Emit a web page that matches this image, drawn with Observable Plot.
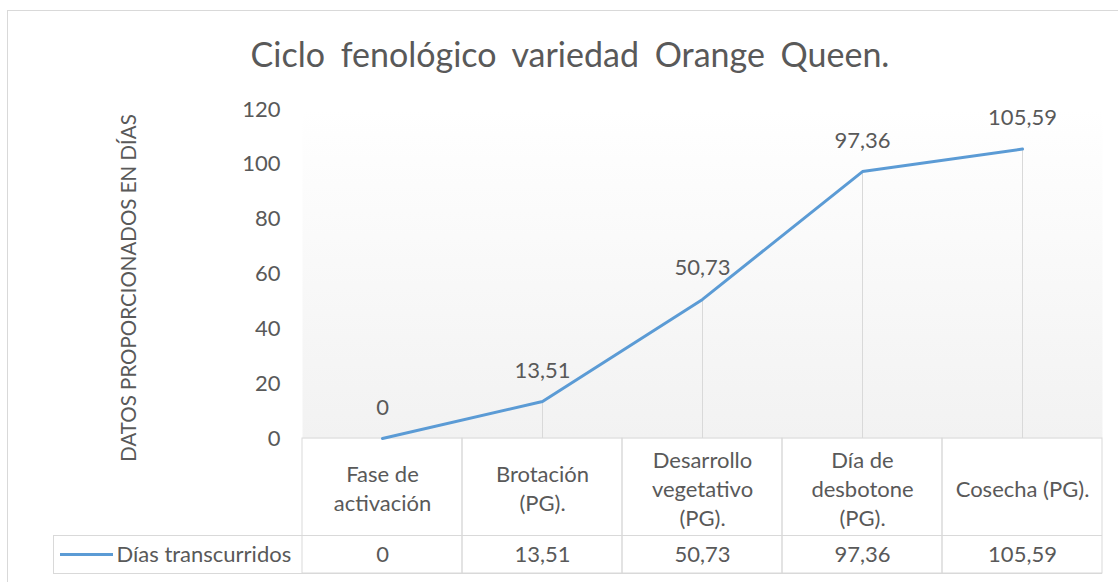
<!DOCTYPE html>
<html>
<head>
<meta charset="utf-8">
<script src="https://cdn.jsdelivr.net/npm/d3@7"></script>
<script src="https://cdn.jsdelivr.net/npm/@observablehq/plot@0.6"></script>
<style>
  html, body { margin: 0; padding: 0; background: #ffffff; }
  #wrap { position: relative; width: 1118px; height: 582px; overflow: hidden; font-family: Lato, "Open Sans", sans-serif; }
  #frameBox { position: absolute; left: 7px; top: 10px; width: 1130px; height: 600px; border: 1.5px solid #d9d9d9; box-sizing: border-box; }
  #title { position: absolute; left: 0; top: 34px; width: 1140px; text-align: center; font-size: 34px; font-weight: 400; color: #595959; word-spacing: 7px; line-height: 40px; }
  #chart { position: absolute; left: 0; top: 0; }
</style>
</head>
<body>
<div id="wrap">
  <div id="frameBox"></div>
  <div id="chart"></div>
  <div id="title"></div>
</div>
<script>
// ---- data ----
const chartTitle = "Ciclo fenológico variedad Orange Queen.";
const yAxisTitle = "DATOS PROPORCIONADOS EN DÍAS";
const seriesName = "Días transcurridos";
const categories = [
  "Fase de\nactivación",
  "Brotación\n(PG).",
  "Desarrollo\nvegetativo\n(PG).",
  "Día de\ndesbotone\n(PG).",
  "Cosecha (PG)."
];
const values = [0, 13.51, 50.73, 97.36, 105.59];
const yTicks = [0, 20, 40, 60, 80, 100, 120];

// ---- layout / style ----
const W = 1118, H = 582;
const M = {left: 302, right: 16, top: 109, bottom: 144};
const headerH = 97, rowH = 38, legendW = 249;
const textColor = "#595959", lineColor = "#5b9bd5", gridColor = "#d9d9d9";
const fs = 22;

const data = categories.map((c, i) => ({cat: c, value: values[i]}));
const fmt = v => String(v).replace(".", ",");

document.getElementById("title").textContent = chartTitle;

const defs = () => {
  const d = d3.create("svg:defs");
  const g = d.append("linearGradient").attr("id", "bgGrad")
    .attr("x1", 0).attr("y1", 0).attr("x2", 0).attr("y2", 1);
  g.append("stop").attr("offset", "0%").attr("stop-color", "#ffffff");
  g.append("stop").attr("offset", "100%").attr("stop-color", "#f2f2f2");
  return d.node();
};

const frameRight = W - M.right;

const chart = Plot.plot({
  width: W, height: H,
  marginLeft: M.left, marginRight: M.right, marginTop: M.top, marginBottom: M.bottom,
  style: {fontFamily: "Lato", fontSize: fs + "px", color: textColor, background: "transparent", overflow: "visible"},
  x: {type: "band", domain: categories, padding: 0, axis: null},
  y: {domain: [0, 120], ticks: yTicks, tickSize: 0, tickPadding: 22, label: null},
  marks: [
    defs,
    Plot.frame({fill: "url(#bgGrad)", stroke: "none"}),
    // drop lines
    Plot.ruleX(data, {x: "cat", y1: 0, y2: "value", stroke: gridColor, strokeWidth: 1}),
    // table column cells (header + value row)
    Plot.barY(data, {x: "cat", y1: 0, y2: 0, insetBottom: -(headerH + rowH), fill: "none", stroke: gridColor, strokeWidth: 1}),
    // row separator and bottom line, extended into legend column
    Plot.ruleY([0], {dy: headerH, insetLeft: -legendW, stroke: gridColor}),
    Plot.ruleY([0], {dy: headerH + rowH, insetLeft: -legendW, stroke: gridColor}),
    // left edge of legend cell
    Plot.ruleX([categories[0]], {x: d => d, y1: 0, y2: 0, dx: -80 - legendW, insetTop: headerH, insetBottom: -(headerH + rowH), stroke: gridColor}),
    // series line
    Plot.line(data, {x: "cat", y: "value", stroke: lineColor, strokeWidth: 3, curve: "linear"}),
    // data labels
    Plot.text(data, {x: "cat", y: "value", text: d => fmt(d.value), dy: -31, fill: textColor, fontSize: fs}),
    // header cells
    Plot.text(data, {x: "cat", text: "cat", frameAnchor: "bottom", lineAnchor: "middle", dy: 49, lineHeight: 1.33, fill: textColor, fontSize: fs}),
    // value cells
    Plot.text(data, {x: "cat", text: d => fmt(d.value), frameAnchor: "bottom", lineAnchor: "middle", dy: headerH + rowH / 2, fill: textColor, fontSize: fs}),
    // legend key
    Plot.ruleY([0], {dy: headerH + rowH / 2, insetLeft: -(M.left - 60), insetRight: frameRight - 113, stroke: lineColor, strokeWidth: 3}),
    Plot.text([seriesName], {frameAnchor: "bottom-left", textAnchor: "start", lineAnchor: "middle", dx: 116 - M.left, dy: headerH + rowH / 2, fill: textColor, fontSize: fs}),
    // y axis title
    Plot.text([yAxisTitle], {frameAnchor: "left", textAnchor: "middle", lineAnchor: "middle", rotate: -90, dx: -173, dy: 14, fill: textColor, fontSize: 20.5})
  ]
});

document.getElementById("chart").appendChild(chart);
</script>
</body>
</html>
